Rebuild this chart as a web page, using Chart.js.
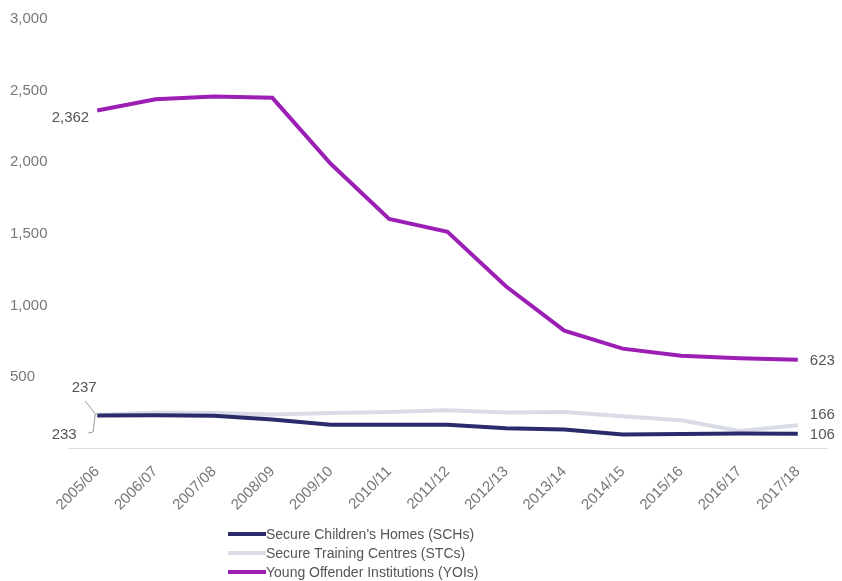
<!DOCTYPE html>
<html>
<head>
<meta charset="utf-8">
<script src="https://cdn.jsdelivr.net/npm/chart.js@4.4.1/dist/chart.umd.min.js"></script>
<style>
  html, body { margin: 0; padding: 0; background: #fff; }
  #wrap { position: relative; width: 842px; height: 581px; }
  #legend { position: absolute; left: 228px; top: 524px; font-family: "Liberation Sans", Arial, sans-serif; font-size: 14px; color: #555; }
  .item { display: flex; align-items: center; height: 19px; }
  .sw { width: 38px; height: 4px; margin-right: 0px; }
</style>
</head>
<body>
<div id="wrap">
  <canvas id="c" width="842" height="581"></canvas>
  <div id="legend"></div>
</div>
<script>
const categories = ["2005/06","2006/07","2007/08","2008/09","2009/10","2010/11","2011/12","2012/13","2013/14","2014/15","2015/16","2016/17","2017/18"];
const schValues = [233, 235, 232, 205, 168, 168, 168, 145, 135, 100, 105, 108, 106];
const stcValues = [237, 255, 250, 240, 250, 258, 270, 255, 258, 228, 200, 126, 166];
const yoiValues = [2362, 2440, 2460, 2450, 1990, 1605, 1515, 1135, 825, 700, 650, 632, 623];
const seriesNames = ["Secure Children's Homes (SCHs)", "Secure Training Centres (STCs)", "Young Offender Institutions (YOIs)"];
const yTicks = [0, 500, 1000, 1500, 2000, 2500, 3000];

const colors = ["#2b2a6b", "#d9dce6", "#9b1fb5"];
const fontFam = '"Liberation Sans", Arial, sans-serif';

const annotate = {
  id: 'annotate',
  afterDatasetsDraw(chart) {
    const ctx = chart.ctx;
    const x = chart.scales.x, y = chart.scales.y;
    const last = categories.length - 1;
    const fmt = v => v.toLocaleString('en-US');
    ctx.save();
    ctx.font = '15px ' + fontFam;
    ctx.fillStyle = '#555';
    ctx.textBaseline = 'middle';
    // YOI start
    const x0 = x.getPixelForValue(0);
    ctx.textAlign = 'right';
    ctx.fillText(fmt(yoiValues[0]), x0 - 8, y.getPixelForValue(yoiValues[0]) + 7);
    // STC / SCH start with bracket
    const ys = y.getPixelForValue(stcValues[0]);
    ctx.textAlign = 'center';
    ctx.fillText(fmt(stcValues[0]), x0 - 13, ys - 27);
    ctx.fillText(fmt(schValues[0]), x0 - 33, ys + 20);
    ctx.strokeStyle = '#999';
    ctx.lineWidth = 1;
    ctx.beginPath();
    ctx.moveTo(x0 - 12, ys - 14);
    ctx.lineTo(x0 - 2, ys - 1);
    ctx.lineTo(x0 - 4, ys + 17);
    ctx.lineTo(x0 - 9, ys + 18);
    ctx.moveTo(x0 - 2, ys - 1);
    ctx.lineTo(x0 + 2, ys - 1);
    ctx.stroke();
    // end labels
    const xl = x.getPixelForValue(last);
    ctx.textAlign = 'left';
    ctx.fillText(fmt(yoiValues[last]), xl + 12, y.getPixelForValue(yoiValues[last]) + 1);
    ctx.fillText(fmt(stcValues[last]), xl + 12, y.getPixelForValue(stcValues[last]) - 10);
    ctx.fillText(fmt(schValues[last]), xl + 12, y.getPixelForValue(schValues[last]) + 1);
    ctx.restore();
  }
};

const chart = new Chart(document.getElementById('c'), {
  type: 'line',
  data: {
    labels: categories,
    datasets: [
      { label: seriesNames[0], data: schValues, borderColor: colors[0], backgroundColor: colors[0], borderWidth: 4, pointRadius: 0, order: 1 },
      { label: seriesNames[1], data: stcValues, borderColor: colors[1], backgroundColor: colors[1], borderWidth: 4, pointRadius: 0, order: 2 },
      { label: seriesNames[2], data: yoiValues, borderColor: colors[2], backgroundColor: colors[2], borderWidth: 4, pointRadius: 0, order: 0 }
    ]
  },
  options: {
    responsive: false,
    animation: false,
    layout: { padding: { left: 10, top: 19, right: 15, bottom: 53 } },
    plugins: { legend: { display: false }, tooltip: { enabled: false } },
    scales: {
      x: {
        offset: true,
        grid: { display: false, drawTicks: false },
        border: { display: true, color: '#ddd', width: 1 },
        ticks: { color: '#777', font: { family: fontFam, size: 15 }, minRotation: 45, maxRotation: 45, padding: 14 }
      },
      y: {
        min: 0, max: 3000,
        afterBuildTicks: s => { s.ticks = yTicks.map(v => ({ value: v })); },
        afterFit: s => { s.width = 58; },
        grid: { display: false, drawTicks: false },
        border: { display: false },
        ticks: {
          crossAlign: 'far',
          color: '#777',
          font: { family: fontFam, size: 15 },
          callback: v => v === 0 ? '' : v.toLocaleString('en-US')
        }
      }
    }
  },
  plugins: [annotate]
});

const leg = document.getElementById('legend');
chart.data.datasets.forEach(ds => {
  const d = document.createElement('div'); d.className = 'item';
  const sw = document.createElement('span'); sw.className = 'sw'; sw.style.background = ds.borderColor;
  const t = document.createElement('span'); t.textContent = ds.label;
  d.appendChild(sw); d.appendChild(t); leg.appendChild(d);
});
</script>
</body>
</html>
